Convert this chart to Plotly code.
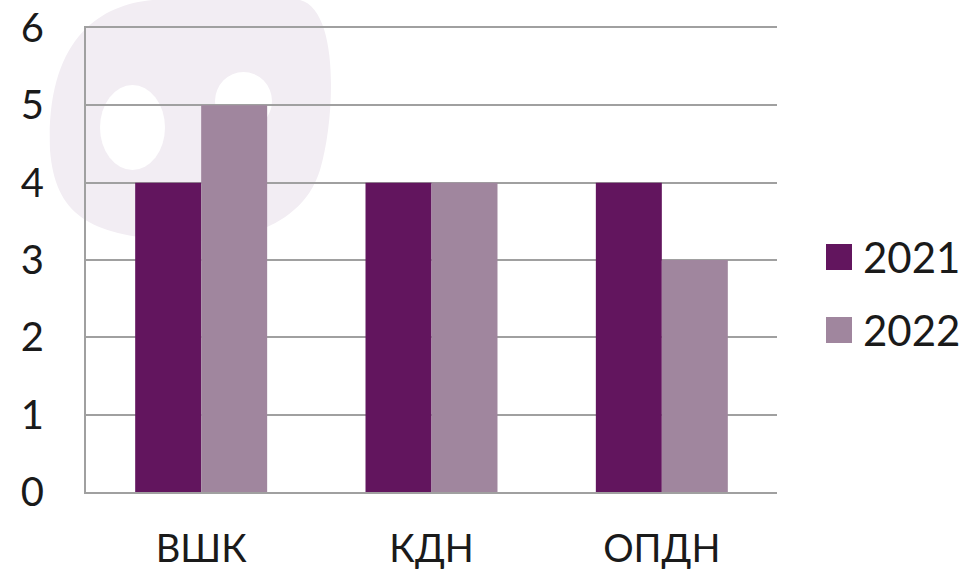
import plotly.graph_objects as go

categories = ["ВШК", "КДН", "ОПДН"]
series_names = ["2021", "2022"]
values_2021 = [4, 4, 4]
values_2022 = [5, 4, 3]
y_ticks = [0, 1, 2, 3, 4, 5, 6]

colors = ["#62155E", "#A0869E"]
FONT = "Lato, 'DejaVu Sans', sans-serif"

W, H = 973, 576
L, R, T, B = 86, 196, 28, 84
pw, ph = W - L - R, H - T - B

def px(x):
    return (x - L) / pw

def py(y):
    return (H - B - y) / ph

fig = go.Figure()
for name, vals, c in zip(series_names, [values_2021, values_2022], colors):
    fig.add_trace(go.Bar(x=categories, y=vals, name=name, showlegend=False,
                         marker=dict(color=c, line=dict(width=0))))

# faint watermark blob behind the grid
blob = (f"M {px(50)},{py(150)} C {px(45)},{py(20)} {px(120)},{py(-5)} {px(180)},{py(0)} "
        f"L {px(300)},{py(0)} C {px(340)},{py(10)} {px(335)},{py(120)} {px(320)},{py(170)} "
        f"C {px(300)},{py(235)} {px(220)},{py(245)} {px(170)},{py(240)} "
        f"C {px(90)},{py(235)} {px(55)},{py(215)} {px(50)},{py(150)} Z")
fig.add_shape(type="path", path=blob, xref="paper", yref="paper",
              fillcolor="#F2EDF3", line=dict(width=0), layer="below")
fig.add_shape(type="circle", xref="paper", yref="paper",
              x0=px(100), x1=px(165), y0=py(170), y1=py(85),
              fillcolor="white", line=dict(width=0), layer="below")
fig.add_shape(type="circle", xref="paper", yref="paper",
              x0=px(215), x1=px(272), y0=py(130), y1=py(72),
              fillcolor="white", line=dict(width=0), layer="below")

# manual legend (large square swatches)
legend_y = [257, 330]
for name, c, ly in zip(series_names, colors, legend_y):
    fig.add_shape(type="rect", xref="paper", yref="paper",
                  x0=px(826), x1=px(852), y0=py(ly + 13), y1=py(ly - 13),
                  fillcolor=c, line=dict(width=0))
    fig.add_annotation(text=name, xref="paper", yref="paper", x=px(861), y=py(ly),
                       xanchor="left", yanchor="middle", showarrow=False,
                       font=dict(size=42, family=FONT, color="#1a1a1a"))

fig.update_layout(
    width=W, height=H,
    margin=dict(l=L, r=R, t=T, b=B, pad=0, autoexpand=False),
    paper_bgcolor="white", plot_bgcolor="rgba(0,0,0,0)",
    barmode="group", bargap=0.427, bargroupgap=0,
    font=dict(family=FONT, color="#1a1a1a", size=40),
    showlegend=False,
    xaxis=dict(showgrid=False, showline=True, linecolor="#A0A0A0", linewidth=2,
               mirror=True, automargin=False,
               ticks="", tickfont=dict(size=38), ticklabelstandoff=22,
               range=[-0.5, 2.5]),
    yaxis=dict(range=[0, 6], tickvals=y_ticks, showgrid=True, gridcolor="#A0A0A0",
               gridwidth=2, showline=True, linecolor="#A0A0A0", linewidth=2,
               automargin=False,
               ticks="", tickfont=dict(size=40), ticklabelstandoff=32, zeroline=False),
)

fig.write_html("out.html", config={"displayModeBar": False},
               post_script="document.body.style.margin='0';document.body.style.overflow='hidden';")
